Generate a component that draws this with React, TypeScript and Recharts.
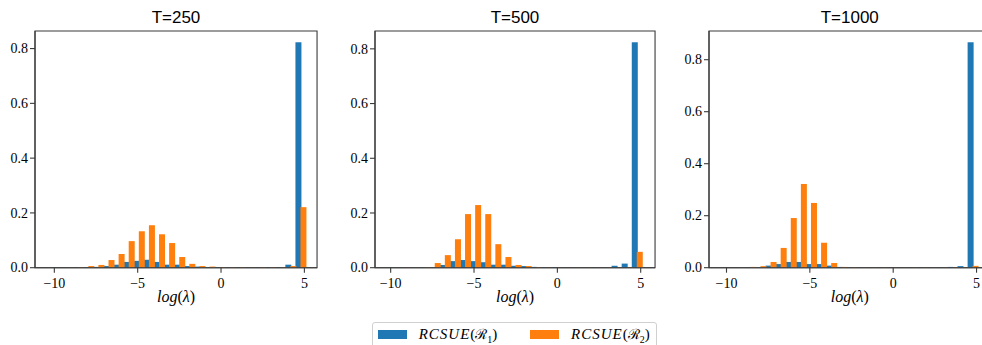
import React from 'react';
import { BarChart, Bar, XAxis, YAxis, ReferenceArea } from 'recharts';

// histogram bins of log(lambda): 25 equal bins
const binStart = -10.08;
const binWidth = 0.606;

// T=250
const rcsue1T250 = [0.001, 0.001, 0.001, 0.002, 0.003, 0.006, 0.011, 0.021, 0.025, 0.029, 0.021, 0.011, 0.011, 0.006, 0.004, 0.002, 0.002, 0.001, 0.001, 0.001, 0.001, 0.001, 0.002, 0.011, 0.823];
const rcsue2T250 = [0.0, 0.001, 0.002, 0.006, 0.01, 0.028, 0.05, 0.097, 0.133, 0.155, 0.122, 0.09, 0.039, 0.014, 0.006, 0.004, 0.002, 0.002, 0.002, 0.001, 0.002, 0.002, 0.002, 0.006, 0.221];
// T=500
const rcsue1T500 = [0.001, 0.001, 0.001, 0.002, 0.002, 0.01, 0.024, 0.028, 0.024, 0.02, 0.011, 0.011, 0.007, 0.006, 0.003, 0.002, 0.002, 0.001, 0.001, 0.001, 0.001, 0.002, 0.007, 0.015, 0.824];
const rcsue2T500 = [0.0, 0.001, 0.001, 0.002, 0.017, 0.046, 0.104, 0.196, 0.229, 0.196, 0.086, 0.039, 0.01, 0.006, 0.002, 0.001, 0.001, 0.001, 0.001, 0.001, 0.001, 0.001, 0.001, 0.002, 0.058];
// T=1000
const rcsue1T1000 = [0.001, 0.001, 0.002, 0.002, 0.008, 0.014, 0.022, 0.022, 0.014, 0.014, 0.008, 0.003, 0.002, 0.001, 0.001, 0.001, 0.001, 0.001, 0.001, 0.001, 0.001, 0.002, 0.003, 0.006, 0.867];
const rcsue2T1000 = [0.0, 0.001, 0.003, 0.006, 0.022, 0.076, 0.191, 0.322, 0.249, 0.096, 0.018, 0.003, 0.002, 0.001, 0.001, 0.001, 0.001, 0.001, 0.001, 0.001, 0.001, 0.001, 0.001, 0.001, 0.007];

const panelTitles = ['T=250', 'T=500', 'T=1000'];
const xTicks = [-10, -5, 0, 5];
const yTicks = [0, 0.2, 0.4, 0.6, 0.8];
const xDomains: [number, number][] = [[-11.16, 5.76], [-10.94, 5.86], [-11.05, 5.84]];

const BLUE = '#1f77b4';
const ORANGE = '#ff7f0e';
const SPINE = '#3a3a3a';
const SERIF = '"Liberation Serif", "DejaVu Serif", serif';
const SANS = '"Liberation Sans", "DejaVu Sans", sans-serif';

// layout (px)
const PX_PER_UNIT = 16.67;
const PLOT_TOP = 31;
const PLOT_BOTTOM = 267.7;
const Y_AXIS_W = 40;
const X_AXIS_H = 40;
const CHART_H = 345;
const panelLefts = [35, 375, 708.5];

const fmtX = (v: number) => (v < 0 ? '\u2212' + Math.abs(v) : String(v));
const fmtY = (v: number) => v.toFixed(1);

const XTick = (props: any) => {
  const { x, y, payload } = props;
  return (
    <text x={x} y={y} dy="0.75em" textAnchor="middle" fontFamily={SERIF} fontSize={14} fill="#000">
      {fmtX(payload.value)}
    </text>
  );
};

const YTick = (props: any) => {
  const { x, y, payload } = props;
  return (
    <text x={x} y={y} dy="0.34em" textAnchor="end" fontFamily={SERIF} fontSize={14} fill="#000">
      {fmtY(payload.value)}
    </text>
  );
};

// hist bars are a bit wider than half a bin, the next one overlaps
const WideBar = (props: any) => {
  const { x, y, width, height, fill } = props;
  if (!height || height <= 0) return null;
  return <rect x={x} y={y} width={width * 1.2} height={height} fill={fill} />;
};

const XLabel = (props: any) => {
  const { viewBox } = props;
  const cx = viewBox.x + viewBox.width / 2;
  const y = viewBox.y + 34;
  return (
    <text x={cx} y={y} textAnchor="middle" fontFamily={SERIF} fontSize={16} fill="#000">
      <tspan fontStyle="italic">log</tspan>
      <tspan>(</tspan>
      <tspan fontStyle="italic">λ</tspan>
      <tspan>)</tspan>
    </text>
  );
};

const TitleLabel = (props: any) => {
  const { viewBox, value } = props;
  return (
    <text x={viewBox.x + viewBox.width / 2} y={viewBox.y - 8.3} textAnchor="middle" fontFamily={SANS} fontSize={17} fill="#000">
      {value}
    </text>
  );
};

interface PanelProps {
  title: string;
  r1: number[];
  r2: number[];
  xDomain: [number, number];
  left: number;
}

const Panel: React.FC<PanelProps> = ({ title, r1, r2, xDomain, left }) => {
  const data = r1.map((v, i) => ({ x: binStart + binWidth * (i + 0.5), r1: v, r2: r2[i] }));
  const yMax = Math.max(...r1, ...r2) * 1.05;
  const plotW = (xDomain[1] - xDomain[0]) * PX_PER_UNIT;
  const width = Y_AXIS_W + plotW + 1;
  return (
    <div style={{ position: 'absolute', left: left - Y_AXIS_W, top: 0 }}>
      <BarChart
        width={width}
        height={CHART_H}
        data={data}
        margin={{ top: PLOT_TOP, right: 1, bottom: CHART_H - PLOT_BOTTOM - X_AXIS_H, left: 0 }}
        barCategoryGap={0}
        barGap={0}
      >
        <XAxis
          dataKey="x"
          type="number"
          domain={xDomain}
          ticks={xTicks}
          allowDataOverflow
          height={X_AXIS_H}
          tick={<XTick />}
          tickSize={5}
          tickMargin={5}
          axisLine={{ stroke: SPINE, strokeWidth: 1.1 }}
          tickLine={{ stroke: SPINE, strokeWidth: 1.1 }}
          label={<XLabel />}
        />
        <YAxis
          type="number"
          domain={[0, yMax]}
          ticks={yTicks}
          allowDataOverflow
          width={Y_AXIS_W}
          tick={<YTick />}
          tickSize={5}
          tickMargin={2}
          axisLine={{ stroke: SPINE, strokeWidth: 1.1 }}
          tickLine={{ stroke: SPINE, strokeWidth: 1.1 }}
        />
        <Bar dataKey="r1" fill={BLUE} shape={<WideBar />} isAnimationActive={false} />
        <Bar dataKey="r2" fill={ORANGE} shape={<WideBar />} isAnimationActive={false} />
        <ReferenceArea
          x1={xDomain[0]}
          x2={xDomain[1]}
          y1={0}
          y2={yMax}
          fill="none"
          fillOpacity={0}
          stroke={SPINE}
          strokeWidth={1.1}
          ifOverflow="extendDomain"
          label={<TitleLabel value={title} />}
        />
      </BarChart>
    </div>
  );
};

const MathName: React.FC<{ idx: string }> = ({ idx }) => (
  <span style={{ fontFamily: SERIF, fontSize: 15, whiteSpace: 'nowrap' }}>
    <i style={{ letterSpacing: 1 }}>RCSUE</i>(<span style={{ fontFamily: '"DejaVu Serif", serif', fontSize: 14 }}>ℛ</span>
    <sub style={{ fontSize: 10 }}>{idx}</sub>)
  </span>
);

const Legend: React.FC = () => (
  <div
    style={{
      position: 'absolute',
      left: 371.7,
      top: 322.3,
      width: 285,
      height: 34,
      border: '1px solid #d0d0d0',
      borderRadius: 3,
      background: '#fff',
      boxSizing: 'border-box',
    }}
  >
    <div style={{ position: 'absolute', left: 5, top: 6.5, width: 29, height: 9.5, background: BLUE }} />
    <div style={{ position: 'absolute', left: 46, top: 1, lineHeight: '20px' }}>
      <MathName idx="1" />
    </div>
    <div style={{ position: 'absolute', left: 157.6, top: 6.5, width: 29, height: 9.5, background: ORANGE }} />
    <div style={{ position: 'absolute', left: 198.3, top: 1, lineHeight: '20px' }}>
      <MathName idx="2" />
    </div>
  </div>
);

const series = [
  [rcsue1T250, rcsue2T250],
  [rcsue1T500, rcsue2T500],
  [rcsue1T1000, rcsue2T1000],
];

export default function App() {
  return (
    <div style={{ position: 'absolute', left: 0, top: 0, width: 982, height: 345, overflow: 'hidden', background: '#fff' }}>
      {series.map(([r1, r2], k) => (
        <Panel key={k} title={panelTitles[k]} r1={r1} r2={r2} xDomain={xDomains[k]} left={panelLefts[k]} />
      ))}
      <Legend />
    </div>
  );
}
